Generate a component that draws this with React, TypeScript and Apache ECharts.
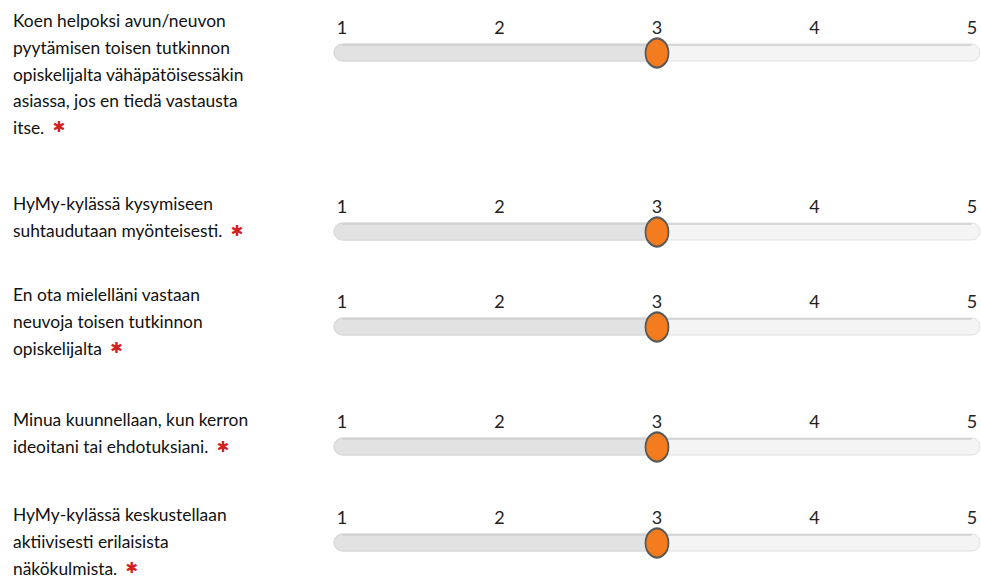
import React, { useEffect, useRef } from "react";
import * as echarts from "echarts";

const questions = [
  "Koen helpoksi avun/neuvon\npyytämisen toisen tutkinnon\nopiskelijalta vähäpätöisessäkin\nasiassa, jos en tiedä vastausta\nitse.",
  "HyMy-kylässä kysymiseen\nsuhtaudutaan myönteisesti.",
  "En ota mielelläni vastaan\nneuvoja toisen tutkinnon\nopiskelijalta",
  "Minua kuunnellaan, kun kerron\nideoitani tai ehdotuksiani.",
  "HyMy-kylässä keskustellaan\naktiivisesti erilaisista\nnäkökulmista.",
];
const values = [3, 3, 3, 3, 3];
const scaleMin = 1;
const scaleMax = 5;

const FONT = "Lato, 'Liberation Sans', sans-serif";
const trackY = [53, 232, 327, 447, 543];
const textY = [21, 204, 295, 420, 515];
const LINE_H = 26.6;

export default function App() {
  const ref = useRef<HTMLDivElement>(null);
  useEffect(() => {
    if (!ref.current) return;
    const chart = echarts.init(ref.current, null, { renderer: "svg" });
    const grids: any[] = [];
    const xAxes: any[] = [];
    const yAxes: any[] = [];
    const series: any[] = [];
    const graphics: any[] = [];
    questions.forEach((q, i) => {
      const ty = trackY[i];
      grids.push({ left: 342, right: 9, top: ty - 20, height: 40 });
      xAxes.push({
        type: "value",
        gridIndex: i,
        min: scaleMin,
        max: scaleMax,
        interval: 1,
        position: "top",
        axisLine: { show: false },
        axisTick: { show: false },
        splitLine: { show: false },
        axisLabel: {
          margin: -3,
          color: "#222",
          fontFamily: FONT,
          fontSize: 18,
          showMinLabel: true,
          showMaxLabel: true,
          formatter: (v: number) => String(v),
        },
      });
      yAxes.push({ type: "value", gridIndex: i, min: -1, max: 1, show: false });
      const val = values[i];
      series.push({
        type: "custom",
        xAxisIndex: i,
        yAxisIndex: i,
        silent: true,
        z: 1,
        data: [[val, 0]],
        renderItem: (params: any, api: any) => {
          const start = api.coord([scaleMin, 0]);
          const end = api.coord([scaleMax, 0]);
          const cur = api.coord([api.value(0), 0]);
          const h = 17;
          const x0 = start[0] - 8;
          const x1 = end[0] + 8;
          const y0 = cur[1] - h / 2 - 0.5;
          return {
            type: "group",
            children: [
              {
                type: "rect",
                shape: { x: x0, y: y0, width: x1 - x0, height: h, r: h / 2 },
                style: { fill: "#f4f4f4", stroke: "#e0e0e0", lineWidth: 1 },
              },
              {
                type: "rect",
                shape: { x: x0, y: y0, width: cur[0] - x0, height: h, r: [h / 2, 0, 0, h / 2] },
                style: { fill: "#e2e2e2", stroke: "#d6d6d6", lineWidth: 1 },
              },
              {
                type: "line",
                shape: { x1: x0 + h / 2, y1: y0 + 1, x2: x1 - h / 2, y2: y0 + 1 },
                style: { stroke: "#cfcfcf", lineWidth: 1.5 },
              },
            ],
          };
        },
      });
      series.push({
        type: "scatter",
        xAxisIndex: i,
        yAxisIndex: i,
        z: 3,
        data: [[val, 0]],
        symbol: "circle",
        symbolSize: [23, 29],
        itemStyle: { color: "#f57b1f", borderColor: "#5a5a5a", borderWidth: 2, opacity: 1 },
        emphasis: { disabled: true },
      });
      graphics.push({
        type: "text",
        left: 13,
        top: textY[i] - LINE_H / 2,
        style: {
          text: q + " {a|✱}",
          fill: "#111111",
          font: `17.4px ${FONT}`,
          lineHeight: LINE_H,
          rich: {
            a: { fill: "#d42020", fontSize: 15, fontFamily: "DejaVu Sans", fontWeight: "bold", lineHeight: LINE_H, padding: [0, 0, 0, 4] },
          },
        },
      });
    });
    chart.setOption({
      animation: false,
      backgroundColor: "#ffffff",
      grid: grids,
      xAxis: xAxes,
      yAxis: yAxes,
      series,
      graphic: graphics,
    });
    return () => chart.dispose();
  }, []);
  return (
    <div
      ref={ref}
      style={{ position: "absolute", left: 0, top: 0, width: 981, height: 579 }}
    />
  );
}
